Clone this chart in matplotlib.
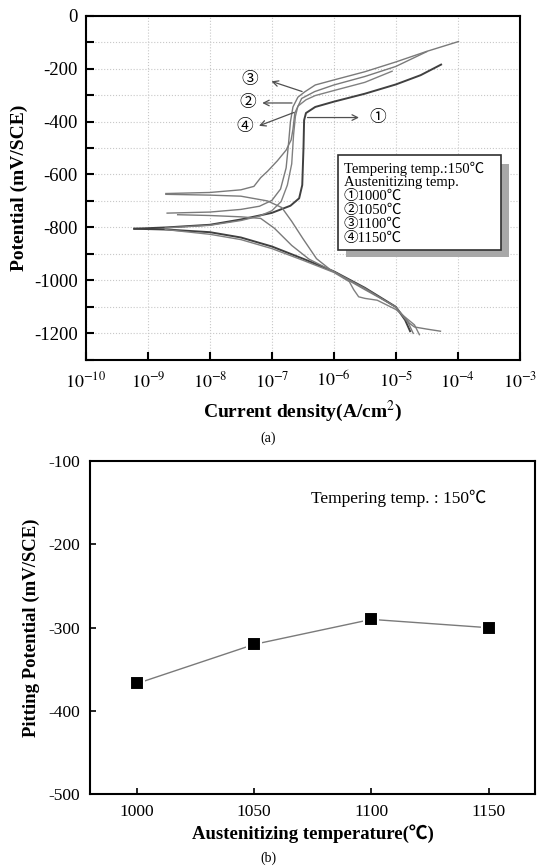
import numpy as np
import matplotlib
matplotlib.use("Agg")
import matplotlib.pyplot as plt
from matplotlib.patches import Rectangle

plt.rcParams['font.family'] = ['Liberation Serif', 'Noto Sans CJK KR']
plt.rcParams['mathtext.fontset'] = 'stix'
plt.rcParams['axes.unicode_minus'] = False

# ---- (a) polarization curves: log10(current density), potential (mV/SCE)
c1_cat_logi = [-9.22, -8.7, -8.0, -7.5, -7.0, -6.5, -6.0, -5.5, -5.0, -4.85, -4.77]
c1_cat_E = [-805, -808, -818, -838, -872, -918, -966, -1028, -1100, -1150, -1192]
c1_an_logi = [-9.22, -8.7, -8.0, -7.5, -7.0, -6.7, -6.56, -6.51, -6.49, -6.48, -6.45, -6.3, -6.0, -5.5, -5.0, -4.6, -4.27]
c1_an_E = [-805, -800, -790, -770, -745, -718, -690, -640, -500, -395, -368, -345, -325, -295, -260, -225, -185]

c2_cat_logi = [-8.72, -8.0, -7.5, -7.0, -6.5, -6.0, -5.75, -5.68, -5.6, -5.5, -5.3, -5.0, -4.7, -4.62]
c2_cat_E = [-808, -826, -846, -880, -924, -970, -1005, -1035, -1062, -1068, -1075, -1110, -1168, -1205]
c2_an_logi = [-8.72, -8.0, -7.5, -7.2, -7.0, -6.85, -6.75, -6.68, -6.65, -6.62, -6.58, -6.45, -6.3, -6.0, -5.5, -5.06]
c2_an_E = [-802, -792, -774, -757, -737, -702, -640, -560, -450, -380, -342, -318, -302, -283, -252, -210]

c3_cat_logi = [-8.52, -8.0, -7.5, -7.18, -6.96, -6.68, -6.4, -6.06, -5.5, -5.0, -4.8, -4.72]
c3_cat_E = [-752, -755, -760, -766, -803, -868, -920, -960, -1030, -1102, -1160, -1200]
c3_an_logi = [-8.69, -8.0, -7.5, -7.2, -7.0, -6.86, -6.77, -6.73, -6.7, -6.66, -6.58, -6.47, -6.3, -6.0, -5.5, -5.0, -4.5, -3.99]
c3_an_E = [-746, -742, -732, -720, -698, -655, -575, -480, -400, -345, -308, -288, -262, -243, -212, -175, -135, -98]

c4_cat_logi = [-8.71, -8.0, -7.5, -7.07, -6.84, -6.68, -6.5, -6.28, -6.06, -5.8, -5.5, -5.0, -4.78, -4.7, -4.5, -4.28]
c4_cat_E = [-675, -678, -682, -700, -725, -777, -842, -918, -959, -995, -1035, -1100, -1162, -1176, -1184, -1192]
c4_an_logi = [-8.71, -8.0, -7.5, -7.29, -7.18, -7.07, -6.91, -6.77, -6.69, -6.66, -6.63, -6.52, -6.31, -6.0, -5.5, -5.0, -4.5]
c4_an_E = [-672, -668, -658, -645, -612, -588, -548, -508, -470, -430, -368, -313, -287, -262, -230, -192, -136]

legend_lines = ["Tempering temp.:150℃", "Austenitizing temp.",
                "①1000℃", "②1050℃", "③1100℃", "④1150℃"]

# ---- (b) pitting potential
aus_temp = [1000, 1050, 1100, 1150]
pit_pot = [-367, -320, -290, -300]

fig = plt.figure(figsize=(5.37, 8.67), dpi=100)

# ================= (a)
ax = fig.add_axes([0.160, 0.585, 0.808, 0.397])
curves = [(c1_cat_logi, c1_cat_E, c1_an_logi, c1_an_E, '#404040', 1.4),
          (c2_cat_logi, c2_cat_E, c2_an_logi, c2_an_E, '#808080', 1.0),
          (c3_cat_logi, c3_cat_E, c3_an_logi, c3_an_E, '#7a7a7a', 1.0),
          (c4_cat_logi, c4_cat_E, c4_an_logi, c4_an_E, '#7a7a7a', 1.0)]
for cl, ce, al, ae, col, lw in curves:
    ax.plot(10.0 ** np.array(cl), ce, color=col, lw=lw)
    ax.plot(10.0 ** np.array(al), ae, color=col, lw=lw)

ax.set_xscale('log')
ax.set_xlim(1e-10, 1e-3)
ax.set_ylim(-1300, 0)
ax.set_xticks([10.0 ** k for k in range(-10, -2)])
ax.set_xticklabels([r'$10^{%d}$' % k for k in range(-10, -2)])
ax.xaxis.set_minor_locator(matplotlib.ticker.NullLocator())
ax.set_yticks(range(-1200, 1, 200))
ax.set_yticks(range(-1300, 0, 100), minor=True)
ax.set_yticklabels([str(v) for v in range(-1200, 1, 200)])
ax.tick_params(which='both', direction='in', length=6, width=1.5,
               top=False, right=False)
ax.tick_params(axis='y', labelsize=13.5, pad=6)
ax.tick_params(axis='x', labelsize=13, pad=8)
ax.grid(True, which='both', color='#c8c8c8', ls=':', lw=0.8)
for s in ax.spines.values():
    s.set_linewidth(1.5)
ax.set_ylabel('Potential (mV/SCE)', fontsize=14, fontweight='bold', labelpad=4)
ax.set_xlabel('Current density(A/cm$^2$)', fontsize=14, fontweight='bold', labelpad=6)

# legend box with shadow
ax.add_patch(Rectangle((0.599, 0.299), 0.376, 0.270, transform=ax.transAxes,
                       facecolor='#a8a8a8', edgecolor='none', zorder=4))
ax.add_patch(Rectangle((0.581, 0.319), 0.375, 0.276, transform=ax.transAxes,
                       facecolor='white', edgecolor='#303030', lw=1.2, zorder=5))
for k, line in enumerate(legend_lines):
    ax.text(0.594, 0.556 - k * 0.041, line, transform=ax.transAxes, fontsize=10.5,
            va='center', ha='left', zorder=6)

# arrows with circled labels
arrow_kw = dict(arrowstyle='->', color='#505050', lw=0.9)
ax.annotate('', xy=(10 ** -5.55, -385), xytext=(10 ** -6.47, -385),
            arrowprops=arrow_kw)
ax.text(10 ** -5.42, -385, '①', fontsize=12, va='center', ha='left')
ax.annotate('', xy=(10 ** -7.2, -330), xytext=(10 ** -6.63, -330),
            arrowprops=arrow_kw)
ax.text(10 ** -7.25, -330, '②', fontsize=12, va='center', ha='right')
ax.annotate('', xy=(10 ** -7.05, -245), xytext=(10 ** -6.47, -290),
            arrowprops=arrow_kw)
ax.text(10 ** -7.23, -245, '③', fontsize=12, va='center', ha='right')
ax.annotate('', xy=(10 ** -7.25, -420), xytext=(10 ** -6.6, -362),
            arrowprops=arrow_kw)
ax.text(10 ** -7.3, -420, '④', fontsize=12, va='center', ha='right')

fig.text(0.5, 1 - 438 / 867, '(a)', fontsize=10, ha='center', va='center')

# ================= (b)
bx = fig.add_axes([0.168, 0.084, 0.829, 0.384])
bx.plot(aus_temp, pit_pot, color='#7a7a7a', lw=1.0, marker='s', ms=9.5,
        mfc='black', mec='white', mew=1.5)
bx.set_xlim(980, 1170)
bx.set_ylim(-500, -100)
bx.set_xticks(aus_temp)
bx.set_yticks(range(-500, -99, 100))
bx.tick_params(direction='in', length=4, width=1.2, labelsize=12.5, pad=7,
               top=False, right=False)
for s in bx.spines.values():
    s.set_linewidth(1.5)
bx.set_ylabel('Pitting Potential (mV/SCE)', fontsize=13.5, fontweight='bold', labelpad=6)
bx.set_xlabel('Austenitizing temperature(℃)', fontsize=13.5, fontweight='bold', labelpad=3)
bx.text(1149, -145, 'Tempering temp. : 150℃', fontsize=12.5, ha='right', va='center')

fig.text(0.5, 1 - 858 / 867, '(b)', fontsize=10, ha='center', va='center')

fig.savefig('out.png', dpi=100)
